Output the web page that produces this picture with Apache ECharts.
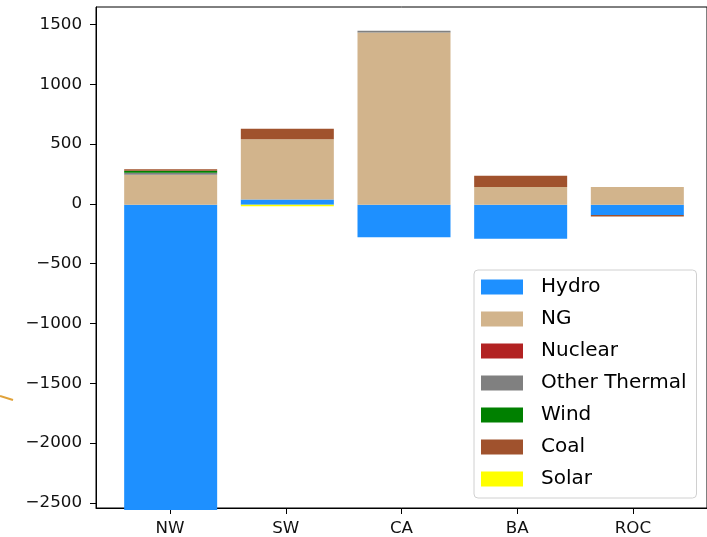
<!DOCTYPE html>
<html>
<head>
<meta charset="utf-8">
<script src="https://cdn.jsdelivr.net/npm/echarts@6.0.0/dist/echarts.min.js"></script>
<style>
  html, body { margin: 0; padding: 0; background: #fff; }
  #chart { width: 707px; height: 537px; }
</style>
</head>
<body>
<div id="chart"></div>
<script>
// regions on the x axis
const categories = ['NW', 'SW', 'CA', 'BA', 'ROC'];
const xPositions = [0, 1, 2, 3, 4];

// generation by source
const hydro        = [-2560,  44, -272, -283, -86];
const ng           = [  250, 500, 1433,  148, 148];
const nuclear      = [    0,   0,    0,    0,   0];
const otherThermal = [   15,   0,   15,    0,   0];
const wind         = [   18,   0,    0,    0,   0];
const coal         = [   12,  89,    0,   92, -12];
const solar        = [    0, -14,    0,    0,   0];

const yTicks = [-2500, -2000, -1500, -1000, -500, 0, 500, 1000, 1500];

const sources = [
    {name: 'Hydro', data: hydro, color: '#1E90FF'},
    {name: 'NG', data: ng, color: '#D2B48C'},
    {name: 'Nuclear', data: nuclear, color: '#B22222'},
    {name: 'Other Thermal', data: otherThermal, color: '#808080'},
    {name: 'Wind', data: wind, color: '#008000'},
    {name: 'Coal', data: coal, color: '#A0522D'},
    {name: 'Solar', data: solar, color: '#FFFF00'}
];

const font = 'DejaVu Sans';
const yMin = -2542, yMax = 1646;
// axes frame: x runs from -0.64 to 4.64 like matplotlib's auto margins
const frame = {left: 96, top: 7, width: 616, height: 503};
const xMin = -0.64, xMax = 4.64;
const band = frame.width / (xMax - xMin);

const chart = echarts.init(document.getElementById('chart'));

const option = {
    animation: false,
    grid: [
        Object.assign({show: true, borderColor: '#000', borderWidth: 1, backgroundColor: 'transparent'}, frame),
        // grid the bars live in (category bands lined up with the frame above)
        {left: frame.left + (0 - xMin - 0.5) * band, top: frame.top, width: 5 * band, height: frame.height}
    ],
    legend: {
        orient: 'vertical',
        left: 474, top: 270,
        icon: 'rect',
        itemWidth: 42, itemHeight: 15,
        itemGap: 12,
        padding: [7, 10, 9, 7],
        borderColor: '#d0d0d0', borderWidth: 1, borderRadius: 4,
        backgroundColor: 'rgba(255,255,255,0.85)',
        textStyle: {
            fontFamily: font, fontSize: 20, color: '#000',
            lineHeight: 20, padding: [0, 0, 0, 13]
        },
        data: sources.map(s => s.name)
    },
    xAxis: [{
        gridIndex: 0,
        type: 'value',
        min: xMin, max: xMax,
        axisLine: {onZero: false, lineStyle: {color: '#000', width: 1}},
        axisTick: {show: true, length: 6, customValues: xPositions, lineStyle: {color: '#000'}},
        axisLabel: {
            customValues: xPositions,
            margin: 12,
            fontFamily: font, fontSize: 16.7, color: '#111',
            formatter: v => categories[v]
        },
        splitLine: {show: false}
    }, {
        gridIndex: 1,
        type: 'category',
        data: categories,
        show: false
    }],
    yAxis: [{
        gridIndex: 0,
        type: 'value',
        min: yMin, max: yMax,
        axisLine: {show: true, onZero: false, lineStyle: {color: '#000', width: 1}},
        axisTick: {show: true, length: 6, customValues: yTicks, lineStyle: {color: '#000'}},
        axisLabel: {
            customValues: yTicks,
            margin: 14,
            fontFamily: font, fontSize: 16.7, color: '#111',
            formatter: v => String(v).replace('-', '\u2212')
        },
        splitLine: {show: false}
    }, {
        gridIndex: 1,
        type: 'value',
        min: yMin, max: yMax,
        show: false,
        splitLine: {show: false}
    }],
    series: sources.map(s => ({
        name: s.name,
        type: 'bar',
        xAxisIndex: 1,
        yAxisIndex: 1,
        stack: 'gen',
        barWidth: 93,
        clip: true,
        itemStyle: {color: s.color},
        emphasis: {disabled: true},
        data: s.data
    })),
    graphic: [{
        // stray stroke at the left edge of the picture
        type: 'line',
        shape: {x1: 0, y1: 396, x2: 13, y2: 400},
        style: {stroke: '#E0A23A', lineWidth: 2}
    }]
};

chart.setOption(option);
</script>
</body>
</html>
